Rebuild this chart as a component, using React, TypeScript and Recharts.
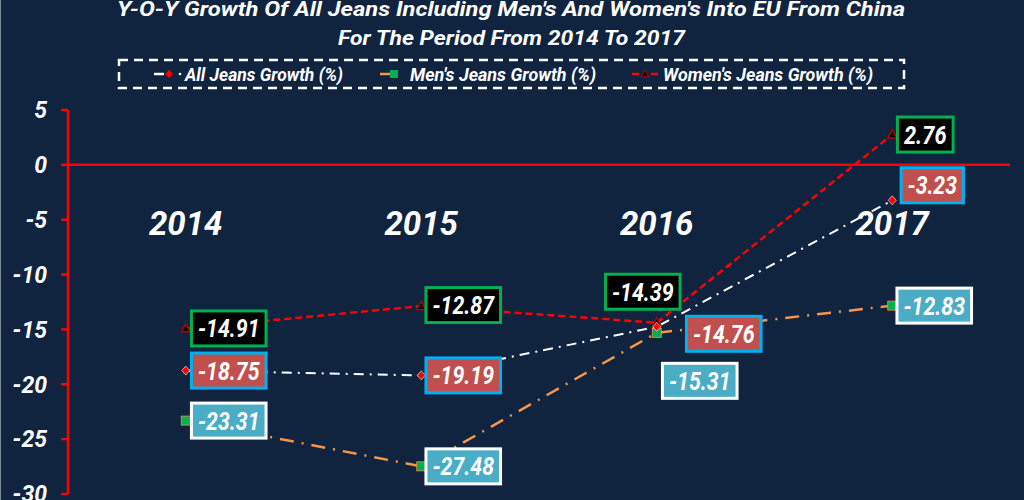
import React from 'react'
import { LineChart, Line, XAxis, YAxis, ReferenceLine, LabelList } from 'recharts'

const years = ['2014', '2015', '2016', '2017']
const allJeans = [-18.75, -19.19, -14.76, -3.23]
const mensJeans = [-23.31, -27.48, -15.31, -12.83]
const womensJeans = [-14.91, -12.87, -14.39, 2.76]
const yTicks = [5, 0, -5, -10, -15, -20, -25, -30]
const seriesNames = ['All Jeans Growth (%)', "Men's Jeans Growth (%)", "Women's Jeans Growth (%)"]
const titleLines = [
  "Y-O-Y Growth Of All Jeans Including Men's And Women's Into EU From China",
  'For The Period From 2014 To 2017',
]

// label box offsets from the point (centre of box)
const allOffsets = [[43, 0], [42, 0], [67, 7], [40, -15]]
const mensOffsets = [[43, 0], [42, 0], [43, 48], [42, 0]]
const womensOffsets = [[43, 0], [42, -1], [-14, -31], [33, 0]]

const data = years.map((y, i) => ({
  year: y,
  all: allJeans[i],
  mens: mensJeans[i],
  womens: womensJeans[i],
}))

const BG = '#10233f'
const FONT = 'Roboto, "DejaVu Sans", sans-serif'

function textWidth(s: string) {
  let w = 0
  for (const c of s) {
    if (c === '-') w += 6.6
    else if (c === '.') w += 5.8
    else w += 12.3
  }
  return w
}

function makeLabel(offsets: number[][], fill: string, border: string) {
  return (props: any) => {
    const { x, y, value, index } = props
    const [dx, dy] = offsets[index] || [40, 0]
    const txt = Number(value).toFixed(2)
    const tw = textWidth(txt)
    const w = tw + 13
    const h = 35
    const cx = x + dx
    const cy = y + dy
    return (
      <g key={`lbl-${index}`}>
        <rect x={cx - w / 2} y={cy - h / 2} width={w} height={h} fill={fill} stroke={border} strokeWidth={3} />
        <text
          x={cx - tw / 2}
          y={cy}
          dy="0.36em"
          textLength={tw}
          lengthAdjust="spacingAndGlyphs"
          fill="#fff"
          fontFamily={FONT}
          fontWeight={700}
          fontStyle="italic"
          fontSize={25}
        >
          {txt}
        </text>
      </g>
    )
  }
}

const diamondDot = (p: any) => (
  <polygon
    key={`d-${p.index}`}
    points={`${p.cx},${p.cy - 4.5} ${p.cx + 4},${p.cy} ${p.cx},${p.cy + 4.5} ${p.cx - 4},${p.cy}`}
    fill="#ff0000"
    stroke="#ffffff"
    strokeWidth={0.6}
  />
)

const squareDot = (p: any) => (
  <rect key={`s-${p.index}`} x={p.cx - 4.5} y={p.cy - 4.5} width={9} height={9} fill="#00b050" stroke="#f79646" strokeWidth={0.8} />
)

const triangleDot = (p: any) => (
  <polygon
    key={`t-${p.index}`}
    points={`${p.cx},${p.cy - 5} ${p.cx + 4.5},${p.cy + 3.5} ${p.cx - 4.5},${p.cy + 3.5}`}
    fill="#1a0505"
    stroke="#c00000"
    strokeWidth={1.2}
  />
)

const YearTick = (props: any) => {
  const { x, payload } = props
  return (
    <text
      x={x}
      y={235}
      textAnchor="middle"
      fill="#fff"
      fontFamily={FONT}
      fontWeight={700}
      fontStyle="italic"
      fontSize={33}
    >
      {payload.value}
    </text>
  )
}

const ValueTick = (props: any) => {
  const { x, y, payload } = props
  return (
    <text
      x={x}
      y={y}
      dy="0.36em"
      textAnchor="end"
      fill="#fff"
      fontFamily={FONT}
      fontWeight={700}
      fontStyle="italic"
      fontSize={23}
    >
      {payload.value}
    </text>
  )
}

function Overlay() {
  const txt = {
    fill: '#fff',
    fontFamily: FONT,
    fontWeight: 700,
    fontStyle: 'italic' as const,
  }
  return (
    <svg width={1024} height={100} style={{ position: 'absolute', left: 0, top: 0, pointerEvents: 'none' }}>
      <text x={117} y={16} fontSize={21} textLength={788} lengthAdjust="spacingAndGlyphs" {...txt}>
        {titleLines[0]}
      </text>
      <text x={338} y={45} fontSize={21} textLength={347} lengthAdjust="spacingAndGlyphs" {...txt}>
        {titleLines[1]}
      </text>
      <rect x={119} y={60} width={785} height={28} fill="none" stroke="#fff" strokeWidth={2.5} strokeDasharray="9 6" />
      {/* All jeans marker */}
      <line x1={154} y1={74} x2={164} y2={74} stroke="#fff" strokeWidth={2.5} />
      <polygon points="169,70 173,74 169,78 165,74" fill="#ff0000" />
      <circle cx={180} cy={74} r={1.3} fill="#fff" />
      <text x={185} y={81} fontSize={19} textLength={158} lengthAdjust="spacingAndGlyphs" {...txt}>
        {seriesNames[0]}
      </text>
      {/* Men's marker */}
      <line x1={380} y1={74} x2={391} y2={74} stroke="#f79646" strokeWidth={2.5} />
      <rect x={390} y={70} width={8} height={8} fill="#00b050" />
      <text x={410} y={81} fontSize={19} textLength={186} lengthAdjust="spacingAndGlyphs" {...txt}>
        {seriesNames[1]}
      </text>
      {/* Women's marker */}
      <line x1={632} y1={74} x2={639} y2={74} stroke="#ff0000" strokeWidth={2.5} />
      <polygon points="645,70 649,77 641,77" fill="#1a0505" stroke="#c00000" strokeWidth={1} />
      <line x1={651} y1={74} x2={658} y2={74} stroke="#ff0000" strokeWidth={2.5} />
      <text x={663} y={81} fontSize={19} textLength={210} lengthAdjust="spacingAndGlyphs" {...txt}>
        {seriesNames[2]}
      </text>
    </svg>
  )
}

export default function App() {
  return (
    <div style={{ position: 'relative', width: 1024, height: 500, background: BG, overflow: 'hidden', boxShadow: 'inset 1px 0 0 #7f8c9c' }}>
      <style>{'body{margin:0;background:' + BG + '}'}</style>
      <LineChart width={1024} height={500} data={data} margin={{ top: 109, right: 14, bottom: 6, left: 0 }}>
        <XAxis
          dataKey="year"
          orientation="top"
          scale="band"
          height={1}
          axisLine={false}
          tickLine={false}
          tick={<YearTick />}
          interval={0}
        />
        <YAxis
          domain={[-30, 5]}
          ticks={yTicks}
          interval={0}
          width={68}
          axisLine={{ stroke: '#ff0000', strokeWidth: 2.5 }}
          tickLine={{ stroke: '#ff0000', strokeWidth: 2.5 }}
          tickSize={7}
          tickMargin={14}
          tick={<ValueTick />}
          allowDataOverflow
        />
        <ReferenceLine y={0} stroke="#ff0000" strokeWidth={2.5} />
        <Line
          dataKey="mens"
          name={seriesNames[1]}
          stroke="#f79646"
          strokeWidth={2.5}
          strokeDasharray="14 8 2 8"
          dot={squareDot}
          isAnimationActive={false}
        >
          <LabelList dataKey="mens" content={makeLabel(mensOffsets, '#4bacc6', '#ffffff')} />
        </Line>
        <Line
          dataKey="womens"
          name={seriesNames[2]}
          stroke="#ff0000"
          strokeWidth={2.5}
          strokeDasharray="7 4"
          dot={triangleDot}
          isAnimationActive={false}
        >
          <LabelList dataKey="womens" content={makeLabel(womensOffsets, '#000000', '#00b050')} />
        </Line>
        <Line
          dataKey="all"
          name={seriesNames[0]}
          stroke="#ffffff"
          strokeWidth={2}
          strokeDasharray="10 6 2 6"
          dot={diamondDot}
          isAnimationActive={false}
        >
          <LabelList dataKey="all" content={makeLabel(allOffsets, '#c0504d', '#00b0f0')} />
        </Line>
      </LineChart>
      <Overlay />
    </div>
  )
}
